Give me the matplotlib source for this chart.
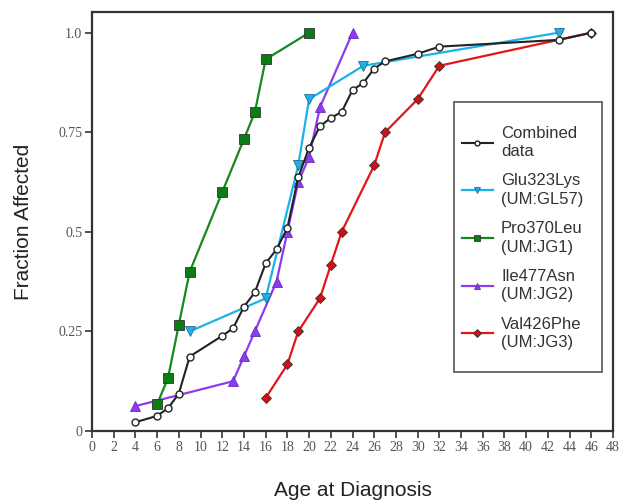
import matplotlib
matplotlib.use("Agg")
import matplotlib.pyplot as plt
from matplotlib.patches import Rectangle

# combined data (all families)
combined_age = [4, 6, 7, 8, 9, 12, 13, 14, 15, 16, 17, 18, 19, 20, 21, 22, 23, 24, 25, 26, 27, 30, 32, 43, 46]
combined_frac = [0.022, 0.038, 0.057, 0.094, 0.187, 0.239, 0.258, 0.312, 0.348, 0.421, 0.456, 0.510,
                 0.637, 0.711, 0.765, 0.786, 0.801, 0.856, 0.874, 0.910, 0.928, 0.947, 0.965, 0.982, 1.0]

glu_age = [9, 16, 19, 20, 25, 43]
glu_frac = [0.25, 0.333, 0.667, 0.833, 0.917, 1.0]

pro_age = [6, 7, 8, 9, 12, 14, 15, 16, 20]
pro_frac = [0.067, 0.133, 0.267, 0.4, 0.6, 0.733, 0.8, 0.933, 1.0]

ile_age = [4, 13, 14, 15, 17, 18, 19, 20, 21, 24]
ile_frac = [0.0625, 0.125, 0.1875, 0.25, 0.375, 0.5, 0.625, 0.6875, 0.8125, 1.0]

val_age = [16, 18, 19, 21, 22, 23, 26, 27, 30, 32, 46]
val_frac = [0.083, 0.167, 0.25, 0.333, 0.417, 0.5, 0.667, 0.75, 0.833, 0.917, 1.0]

x_ticks = list(range(0, 49, 2))
y_ticks = [0, 0.25, 0.5, 0.75, 1.0]
y_tick_labels = ["0", "0.25", "0.5", "0.75", "1.0"]

fig = plt.figure(figsize=(6.21, 5.04), dpi=100)
ax = fig.add_axes([92 / 621, 1 - 431 / 504, (613 - 92) / 621, (431 - 12) / 504])

edge = "#333333"
ax.plot(val_age, val_frac, color="#e3161c", lw=1.6, marker="D", ms=5.5, mfc="#d40f12", mec=edge, mew=0.6,
        label="Val426Phe\n(UM:JG3)", zorder=3)
ax.plot(ile_age, ile_frac, color="#8c3cf0", lw=1.6, marker="^", ms=7, mfc="#8c3cf0", mec="#6a2ab8", mew=0.6,
        label="Ile477Asn\n(UM:JG2)", zorder=3)
ax.plot(pro_age, pro_frac, color="#13891f", lw=1.6, marker="s", ms=7, mfc="#0a7d14", mec=edge, mew=0.6,
        label="Pro370Leu\n(UM:JG1)", zorder=3)
ax.plot(glu_age, glu_frac, color="#1ab2ea", lw=1.6, marker="v", ms=7, mfc="#1ab2ea", mec="#2a6a8a", mew=0.6,
        label="Glu323Lys\n(UM:GL57)", zorder=4)
ax.plot(combined_age, combined_frac, color="#222222", lw=1.5, marker="o", ms=5, mfc="white", mec="#222222",
        mew=1.0, label="Combined\ndata", zorder=5)

ax.set_xlim(0, 48)
ax.set_ylim(0, 1.052)
ax.set_xticks(x_ticks)
ax.set_yticks(y_ticks)
ax.set_yticklabels(y_tick_labels)
for lab in ax.get_xticklabels() + ax.get_yticklabels():
    lab.set_fontfamily("Liberation Serif")
    lab.set_fontsize(10)
    lab.set_color("#555555")
ax.tick_params(direction="out", length=5, width=1.2, color="#333333", pad=2)

for sp in ax.spines.values():
    sp.set_linewidth(1.6)
    sp.set_color("#333333")

ax.set_xlabel("Age at Diagnosis", fontsize=15, family="Liberation Sans", color="#222222", labelpad=20)
ax.set_ylabel("Fraction Affected", fontsize=15, family="Liberation Sans", color="#222222", labelpad=18)

# legend box drawn by hand so the padding matches
box = Rectangle((0.695, 0.141), 0.979 - 0.695, 0.785 - 0.141, transform=ax.transAxes,
                facecolor="white", edgecolor="#555555", lw=1.2, zorder=6)
ax.add_patch(box)

handles, labels = ax.get_legend_handles_labels()
leg = ax.legend(handles[::-1], labels[::-1], loc="center left", bbox_to_anchor=(0.710, 0.461),
                prop={"family": "Liberation Sans", "size": 12}, frameon=False,
                handlelength=1.85, labelspacing=0.86, borderpad=0, handletextpad=0.5,
                markerscale=0.7, borderaxespad=0)
leg.set_zorder(7)
for t in leg.get_texts():
    t.set_color("#333333")
    t.set_linespacing(1.28)

fig.savefig("out.png", dpi=100)
